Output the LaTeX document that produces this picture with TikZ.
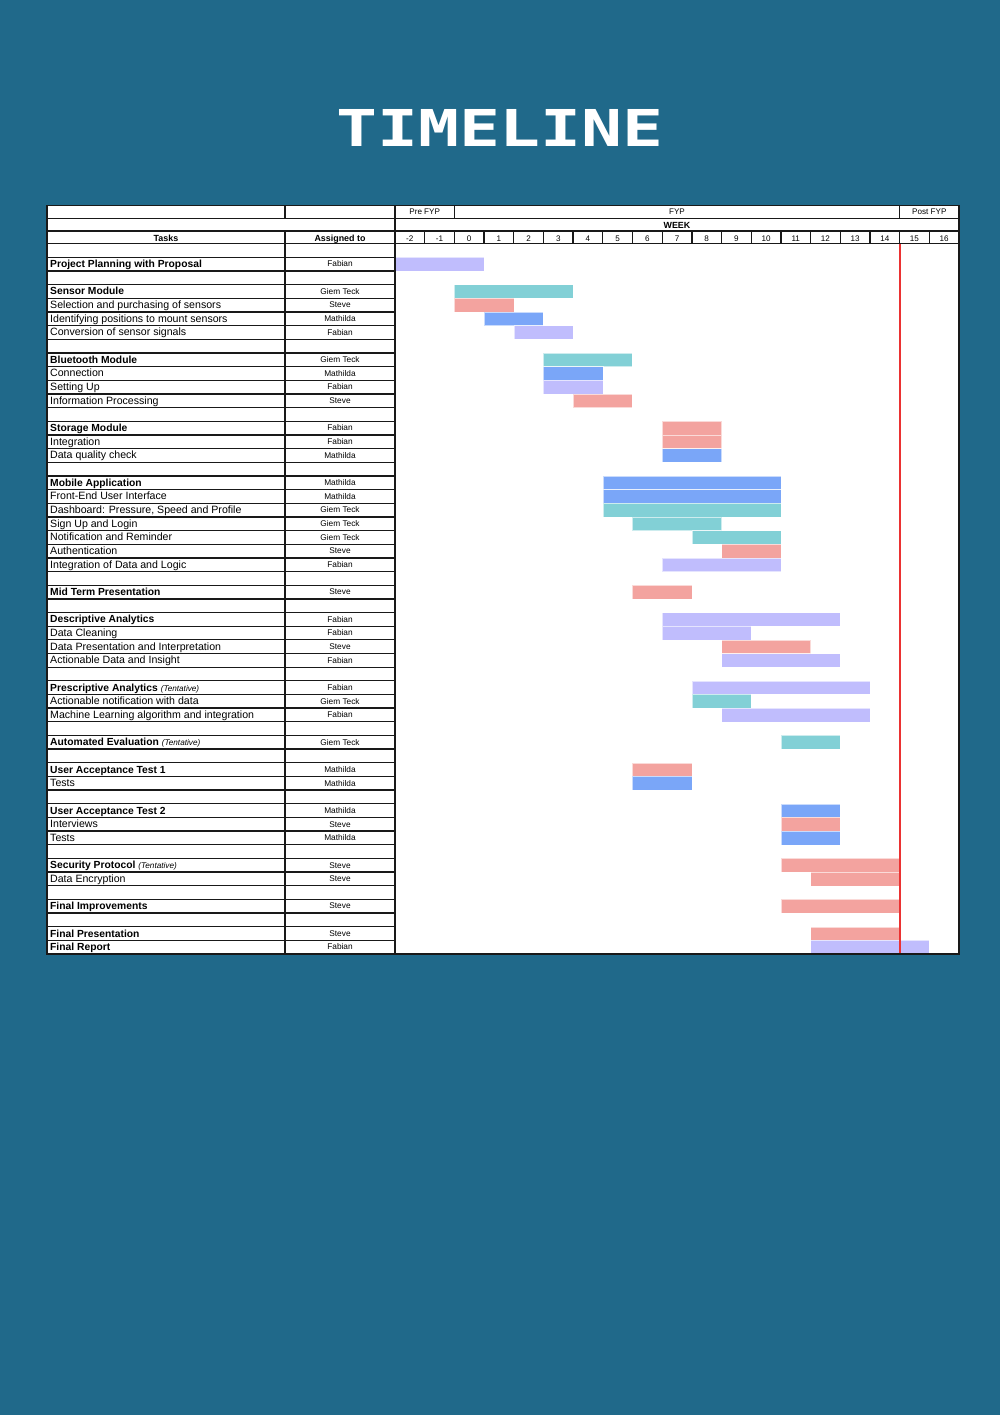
\documentclass[tikz,border=0pt]{standalone}
\usepackage{fontspec}
\setmainfont{Liberation Sans}
\newfontfamily\titlefont{DejaVu Sans Mono}
\definecolor{pagebg}{RGB}{32,105,138}
\definecolor{barLav}{RGB}{192,189,253}
\definecolor{barTeal}{RGB}{130,208,214}
\definecolor{barSal}{RGB}{243,163,159}
\definecolor{barBlue}{RGB}{122,166,248}
\definecolor{gridc}{RGB}{25,25,25}
\definecolor{nowred}{RGB}{235,50,50}
\newcommand{\tb}[1]{{\bfseries\fontsize{10.3}{12}\selectfont #1}}
\newcommand{\tent}{{\itshape\fontsize{8.2}{10}\selectfont (Tentative)}}
\tikzset{
 tasktxt/.style={anchor=base west, inner sep=0pt, font=\fontsize{10.6}{12}\selectfont, text=black},
 whotxt/.style={anchor=base, inner sep=0pt, font=\fontsize{8.3}{10}\selectfont, text=black},
 hdrtxt/.style={anchor=base, inner sep=0pt, font=\bfseries\fontsize{8.9}{10}\selectfont, text=black},
 wktxt/.style={anchor=base, inner sep=0pt, font=\fontsize{8.1}{10}\selectfont, text=black},
 gridline/.style={draw=gridc, line width=1.3pt},
 barbox/.style={draw=white, draw opacity=0.6, line width=0.4pt},
}
\begin{document}
\begin{tikzpicture}[x=1pt,y=-1pt]
\fill[pagebg] (0,0) rectangle (1000,1415);
\useasboundingbox (0,0) rectangle (1000,1415);
\node[font=\titlefont\bfseries\fontsize{50.8}{52}\selectfont, text=white, inner sep=0pt, anchor=base] (title) at (500,147) {\scalebox{1.34}[1]{TIMELINE}};
\fill[white] (47,205.7) rectangle (959,954);
% bars
\foreach \r/\s/\e/\c in {2/-2/1/barLav,4/0/4/barTeal,5/0/2/barSal,6/1/3/barBlue,7/2/4/barLav,
 9/3/6/barTeal,10/3/5/barBlue,11/3/5/barLav,12/4/6/barSal,
 14/7/9/barSal,15/7/9/barSal,16/7/9/barBlue,
 18/5/11/barBlue,19/5/11/barBlue,20/5/11/barTeal,21/6/9/barTeal,22/8/11/barTeal,23/9/11/barSal,24/7/11/barLav,
 26/6/8/barSal,
 28/7/13/barLav,29/7/10/barLav,30/9/12/barSal,31/9/13/barLav,
 33/8/14/barLav,34/8/10/barTeal,35/9/14/barLav,
 37/11/13/barTeal,
 39/6/8/barSal,40/6/8/barBlue,
 42/11/13/barBlue,43/11/13/barSal,44/11/13/barBlue,
 46/11/15/barSal,47/12/15/barSal,
 49/11/15/barSal,
 51/12/15/barSal,52/12/16/barLav}{
 \pgfmathsetmacro\ya{243.7+(\r-1)*13.66}
 \pgfmathsetmacro\yb{\ya+13.66}
 \pgfmathsetmacro\xa{395+(\s+2)*29.6842}
 \pgfmathsetmacro\xb{395+(\e+2)*29.6842}
 \path[fill=\c] (\xa,\ya) rectangle (\xb,\yb);
 \path[barbox] (\xa,\ya) rectangle (\xb,\yb);
}
% task texts
\foreach \r/\tk/\wh in {
 2/{\tb{Project Planning with Proposal}}/Fabian,
 4/{\tb{Sensor Module}}/Giem Teck,
 5/{Selection and purchasing of sensors}/Steve,
 6/{Identifying positions to mount sensors}/Mathilda,
 7/{Conversion of sensor signals}/Fabian,
 9/{\tb{Bluetooth Module}}/Giem Teck,
 10/{Connection}/Mathilda,
 11/{Setting Up}/Fabian,
 12/{Information Processing}/Steve,
 14/{\tb{Storage Module}}/Fabian,
 15/{Integration}/Fabian,
 16/{Data quality check}/Mathilda,
 18/{\tb{Mobile Application}}/Mathilda,
 19/{Front-End User Interface}/Mathilda,
 20/{Dashboard: Pressure, Speed and Profile}/Giem Teck,
 21/{Sign Up and Login}/Giem Teck,
 22/{Notification and Reminder}/Giem Teck,
 23/{Authentication}/Steve,
 24/{Integration of Data and Logic}/Fabian,
 26/{\tb{Mid Term Presentation}}/Steve,
 28/{\tb{Descriptive Analytics}}/Fabian,
 29/{Data Cleaning}/Fabian,
 30/{Data Presentation and Interpretation}/Steve,
 31/{Actionable Data and Insight}/Fabian,
 33/{\tb{Prescriptive Analytics} \tent}/Fabian,
 34/{Actionable notification with data}/Giem Teck,
 35/{Machine Learning algorithm and integration}/Fabian,
 37/{\tb{Automated Evaluation} \tent}/Giem Teck,
 39/{\tb{User Acceptance Test 1}}/Mathilda,
 40/{Tests}/Mathilda,
 42/{\tb{User Acceptance Test 2}}/Mathilda,
 43/{Interviews}/Steve,
 44/{Tests}/Mathilda,
 46/{\tb{Security Protocol} \tent}/Steve,
 47/{Data Encryption}/Steve,
 49/{\tb{Final Improvements}}/Steve,
 51/{\tb{Final Presentation}}/Steve,
 52/{\tb{Final Report}}/Fabian}{
 \pgfmathsetmacro\yt{243.7+(\r-1)*13.66+10.3}
 \pgfmathsetmacro\yw{243.7+(\r-1)*13.66+9.6}
 \node[tasktxt] (task\r) at (50,\yt) {\tk};
 \node[whotxt] (who\r) at (340,\yw) {\wh};
}
% grid lines
\foreach \i in {0,...,52}{
 \pgfmathsetmacro\yy{243.7+\i*13.66}
 \draw[gridline] (47,\yy) -- (395,\yy);
}
\draw[gridline] (47,205.7) -- (959,205.7);
\draw[gridline] (47,218.3) -- (959,218.3);
\draw[gridline] (47,231) -- (959,231);
\draw[gridline] (395,243.7) -- (959,243.7);
\draw[gridline] (285,205.7) -- (285,218.3);
\draw[gridline] (285,231) -- (285,954);
\draw[gridline] (395,205.7) -- (395,954);
\draw[gridline] (454.37,205.7) -- (454.37,218.3);
\draw[gridline] (899.63,205.7) -- (899.63,218.3);
\foreach \w in {-1,...,16}{
 \pgfmathsetmacro\xx{395+(\w+2)*29.6842}
 \draw[gridline] (\xx,231) -- (\xx,243.7);
}
% today line
\fill[nowred] (898.7,244.4) rectangle (900.6,953.4);
% outer frame
\draw[gridline] (47,205.7) rectangle (959,954);
% header texts
\node[wktxt] (pre) at (424.7,214.7) {Pre FYP};
\node[wktxt] (fyp) at (677,214.7) {FYP};
\node[wktxt] (post) at (929.3,214.7) {Post FYP};
\node[hdrtxt] (week) at (677,228.7) {WEEK};
\node[hdrtxt] (tasks) at (166,241.3) {Tasks};
\node[hdrtxt] (assigned) at (340,241.3) {Assigned to};
\foreach \w [count=\k] in {-2,...,16}{
 \pgfmathsetmacro\xc{395+(\w+2)*29.6842+14.842}
 \node[wktxt] (wk\k) at (\xc,241.5) {\w};
}
\end{tikzpicture}
\end{document}
